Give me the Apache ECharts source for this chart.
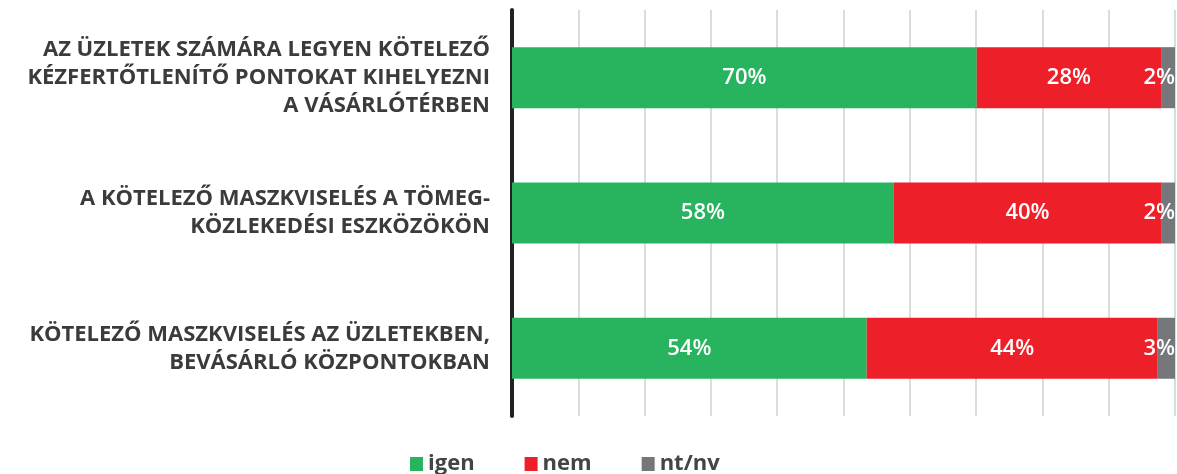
<!DOCTYPE html>
<html>
<head>
<meta charset="utf-8">
<script src="https://cdn.jsdelivr.net/npm/echarts@6/dist/echarts.min.js"></script>
<style>
  html, body { margin: 0; padding: 0; background: #fff; }
  #chart { width: 1177px; height: 474px; }
</style>
</head>
<body>
<div id="chart"></div>
<script>
// kategóriák (alulról felfelé, ahogy az y tengely rajzol)
const categories = [
  'KÖTELEZŐ MASZKVISELÉS AZ ÜZLETEKBEN,\nBEVÁSÁRLÓ KÖZPONTOKBAN',
  'A KÖTELEZŐ MASZKVISELÉS A TÖMEG-\nKÖZLEKEDÉSI ESZKÖZÖKÖN',
  'AZ ÜZLETEK SZÁMÁRA LEGYEN KÖTELEZŐ\nKÉZFERTŐTLENÍTŐ PONTOKAT KIHELYEZNI\nA VÁSÁRLÓTÉRBEN'
]
const igen = [53.5, 57.6, 70.1]
const nem = [43.9, 40.3, 27.8]
const ntnv = [2.6, 2.1, 2.1]
const xTicks = [0, 10, 20, 30, 40, 50, 60, 70, 80, 90, 100]

const font = 'Open Sans'

const valueLabel = (pos) => ({
  show: true,
  position: pos,
  distance: 0,
  color: '#fff',
  fontFamily: font,
  fontSize: 22,
  fontWeight: 600,
  formatter: (p) => Math.round(p.value) + '%'
})

const option = {
  animation: false,
  grid: { left: 512, right: 2, top: 10, bottom: 58 },
  legend: {
    top: 453,
    left: 410,
    padding: 0,
    itemWidth: 13,
    itemHeight: 14,
    itemGap: 50,
    icon: 'rect',
    textStyle: { fontFamily: font, fontSize: 22, fontWeight: 'bold', color: '#444' },
    data: ['igen', 'nem', 'nt/nv']
  },
  xAxis: {
    type: 'value',
    min: xTicks[0],
    max: xTicks[xTicks.length - 1],
    interval: 10,
    axisLabel: { show: false },
    axisLine: { show: false },
    axisTick: { show: false },
    splitLine: { show: true, lineStyle: { color: '#dcdcdc', width: 2 } }
  },
  yAxis: {
    type: 'category',
    data: categories,
    axisTick: { show: false },
    axisLine: { show: true, lineStyle: { color: '#222', width: 4 } },
    axisLabel: {
      margin: 22,
      align: 'right',
      fontFamily: font,
      fontSize: 22,
      fontWeight: 'bold',
      color: '#3b3b3b',
      lineHeight: 28
    }
  },
  series: [
    { name: 'igen', type: 'bar', stack: 'a', data: igen, barWidth: 61,
      itemStyle: { color: '#28b35f' }, label: valueLabel('inside') },
    { name: 'nem', type: 'bar', stack: 'a', data: nem,
      itemStyle: { color: '#ed1f28' }, label: valueLabel('inside') },
    { name: 'nt/nv', type: 'bar', stack: 'a', data: ntnv,
      itemStyle: { color: '#76777a' }, label: valueLabel('insideRight') }
  ]
}

const myChart = echarts.init(document.getElementById('chart'))
myChart.setOption(option)
</script>
</body>
</html>
